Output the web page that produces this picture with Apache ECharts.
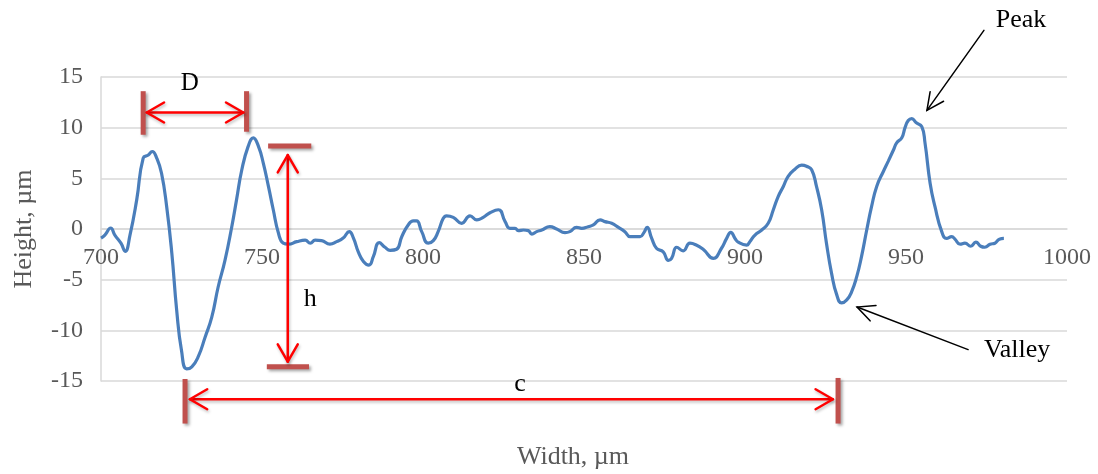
<!DOCTYPE html>
<html><head><meta charset="utf-8">
<script src="https://cdn.jsdelivr.net/npm/echarts@6/dist/echarts.min.js"></script>
<style>html,body{margin:0;padding:0;background:#fff}#c{width:1098px;height:474px}</style>
</head><body><div id="c"></div>
<script>
// ---------- data ----------
const widthUm = [700,701.2,703,704.3,706.2,707.5,709,711.1,713.1,714.7,715.9,717.3,718.8,720.4,722,723.5,725,726.6,728.2,730.2,
732.3,734.4,736.4,738.5,740.6,742.1,743.7,745.7,747.3,748.9,750.4,752,753.5,755.1,756.6,758.2,760.8,763.4,765,766.5,
768.5,771.1,773.2,775.2,777.1,778.4,779.9,781.5,783.2,784.6,786.4,788.2,789.8,791.8,793.4,795.4,797,798,799.6,801.6,
803.2,804.7,806.3,807.3,809.4,812,814.6,816.7,818.7,820.8,823.4,825.5,827,828.6,829.6,831.2,832.7,833.8,835.3,836.9,
839.4,841.5,844.1,845.6,847.7,849.3,851.3,852.9,855,856.5,858.6,860.7,862.7,864.3,865.8,867.4,868.6,869.6,871,872.5,
874.6,876.2,877.2,878.8,880.8,882.9,885,887,890.2,892.7,894.3,895.6,896.9,897.9,900.5,901.5,903.1,905.2,907.2,908.8,
910.3,911.9,913.4,915.5,917.6,919.1,920.7,922.2,923.8,925.3,926.9,928.5,930,931.6,933.1,934.7,936.2,937.8,939.3,940.9,
943,944.5,946.1,947.1,948.7,949.7,950.7,951.8,953.1,954.9,955.9,957.5,959,961.1,962.6,964.2,965.2,966.8,968.3,970.1,
971.7,973.2,974.5,976.1,977.6,979,980.4];
const heightUm = [-0.9,-0.6,0.1,-0.6,-1.4,-2.2,-0.6,2.9,7.0,7.3,7.65,7.0,5.5,2.2,-2.4,-8.0,-12.0,-13.8,-13.6,-12.6,
-10.7,-8.7,-5.7,-3.1,0.2,2.9,5.8,8.15,9.0,8.15,6.5,4.2,1.9,-0.4,-1.4,-1.5,-1.25,-1.1,-1.4,-1.1,
-1.15,-1.5,-1.25,-0.9,-0.26,-0.9,-2.25,-3.2,-3.56,-2.7,-1.35,-1.8,-2.1,-2.0,-0.76,0.4,0.8,0.8,-0.26,-1.4,
-1.15,-0.26,1.05,1.3,1.15,0.56,1.3,0.9,1.15,1.6,1.9,0.73,0.07,0.07,-0.16,-0.1,-0.16,-0.5,-0.26,-0.1,
0.23,0.0,-0.36,-0.26,0.16,0.07,0.23,0.4,0.9,0.73,0.56,0.16,-0.26,-0.76,-0.76,-0.76,-0.36,0.16,-0.9,-1.9,
-2.25,-3.1,-2.9,-1.8,-2.15,-1.4,-1.6,-2.0,-2.9,-1.9,-0.93,-0.33,-0.93,-1.3,-1.6,-1.25,-0.6,-0.1,0.56,1.9,
3.2,4.2,5.2,5.9,6.3,6.2,5.85,4.2,1.9,-1.4,-4.4,-6.5,-7.3,-7.0,-6.2,-4.7,-2.7,-0.1,2.2,4.2,
5.7,6.7,7.8,8.5,9.0,10.0,10.7,10.9,10.5,10.1,8.5,4.5,2.2,-0.26,-0.93,-0.76,-1.0,-1.5,-1.4,-1.7,
-1.3,-1.7,-1.8,-1.5,-1.4,-1.0,-0.93];
const xTicks = [700,750,800,850,900,950,1000];
const yTicks = [-15,-10,-5,0,5,10,15];
const xTitle = 'Width, µm';
const yTitle = 'Height, µm';
const annotationLabels = {D:'D', h:'h', c:'c', peak:'Peak', valley:'Valley'};

// ---------- chart ----------
const FONT = '"Liberation Serif", "Times New Roman", serif';
const chart = echarts.init(document.getElementById('c'), null, {renderer:'canvas'});
const points = widthUm.map((x,i)=>[x, heightUm[i]]);
chart.setOption({
  animation:false,
  backgroundColor:'#fff',
  grid:{left:101, right:31, top:77, bottom:93, containLabel:false},
  xAxis:{type:'value', min:xTicks[0], max:xTicks[xTicks.length-1], interval:xTicks[1]-xTicks[0],
    axisLine:{onZero:false, lineStyle:{color:'#d9d9d9', width:1.5}},
    axisTick:{show:false}, splitLine:{show:false},
    axisLabel:{color:'#595959', fontFamily:FONT, fontSize:24, margin:17, showMinLabel:true, showMaxLabel:true,
      formatter:v=>String(v)}},
  yAxis:{type:'value', min:yTicks[0], max:yTicks[yTicks.length-1], interval:yTicks[1]-yTicks[0],
    axisLine:{show:true, onZero:false, lineStyle:{color:'#d9d9d9', width:1.5}},
    axisTick:{show:false},
    splitLine:{lineStyle:{color:'#d9d9d9', width:1.5}},
    axisLabel:{color:'#595959', fontFamily:FONT, fontSize:24, margin:18},
    name:yTitle, nameLocation:'middle', nameGap:64,
    nameTextStyle:{color:'#595959', fontFamily:FONT, fontSize:26}},
  series:[{type:'line', data:points, showSymbol:false, smooth:0.5,
    lineStyle:{color:'#4a7ebb', width:3.2}, itemStyle:{color:'#4a7ebb'}}]
});

// ---------- annotations (in data units) ----------
const P = p => chart.convertToPixel({gridIndex:0}, p);
// place the x axis (line + labels) on y = 0, as the horizontal axis crosses there
chart.setOption({xAxis:{offset: P([xTicks[0],0])[1] - P([xTicks[0],yTicks[0]])[1]}});

const els = [];
const barStyle = {stroke:'#c0504d', lineWidth:5, lineCap:'butt', shadowBlur:3, shadowColor:'rgba(0,0,0,0.35)', shadowOffsetX:2, shadowOffsetY:2};
const redStyle = {stroke:'#ff0000', lineWidth:2.5, lineCap:'round', lineJoin:'round', fill:null, shadowBlur:3, shadowColor:'rgba(0,0,0,0.25)', shadowOffsetX:1, shadowOffsetY:2};
const blackStyle = {stroke:'#000', lineWidth:1.5, lineCap:'round', lineJoin:'miter', fill:null};
function seg(a,b,style){ const A=P(a), B=P(b); els.push({type:'line', shape:{x1:A[0],y1:A[1],x2:B[0],y2:B[1]}, style:style, z:100}); }
function head(tipD, fromD, style, len, ang){
  const t=P(tipD), f=P(fromD);
  const a=Math.atan2(f[1]-t[1], f[0]-t[0]);
  const p1=[t[0]+len*Math.cos(a+ang), t[1]+len*Math.sin(a+ang)];
  const p2=[t[0]+len*Math.cos(a-ang), t[1]+len*Math.sin(a-ang)];
  els.push({type:'polyline', shape:{points:[p1,t,p2]}, style:style, z:101});
}
function arrow2(a,b,style){ seg(a,b,style); head(a,b,style,20,Math.PI/6); head(b,a,style,20,Math.PI/6); }
function arrow1(from,tip,style){ seg(from,tip,style); head(tip,from,style,19,Math.PI/7); }
function label(txt, at, size){ const A=P(at); els.push({type:'text', x:A[0], y:A[1], style:{text:txt, fill:'#000', font:size+'px '+FONT, align:'center', verticalAlign:'middle'}, z:102}); }

// D
seg([713.1,9.3],[713.1,13.6],barStyle);
seg([745.2,9.6],[745.2,13.6],barStyle);
arrow2([714.2,11.5],[744.2,11.5],redStyle);
label(annotationLabels.D,[727.6,14.4],25);
// h
seg([751.9,8.2],[765.3,8.2],barStyle);
seg([751.5,-13.6],[764.6,-13.6],barStyle);
arrow2([758,7.3],[758,-13.1],redStyle);
label(annotationLabels.h,[765,-6.9],26);
// c
seg([726.1,-14.8],[726.1,-19.2],barStyle);
seg([928.9,-14.7],[928.9,-19.2],barStyle);
arrow2([727.6,-16.8],[927.3,-16.8],redStyle);
label(annotationLabels.c,[830.1,-15.3],26);
// Peak / Valley
arrow1([974.2,19.6],[956.5,11.7],blackStyle);
label(annotationLabels.peak,[985.7,20.6],26);
arrow1([969.3,-11.9],[934.8,-7.7],blackStyle);
label(annotationLabels.valley,[984.5,-12.0],26);
// x-axis title
els.push({type:'text', x:573, y:457, style:{text:xTitle, fill:'#595959', font:'26px '+FONT, align:'center', verticalAlign:'middle'}, z:50});

chart.setOption({graphic:{elements:els}});
</script>
</body></html>
